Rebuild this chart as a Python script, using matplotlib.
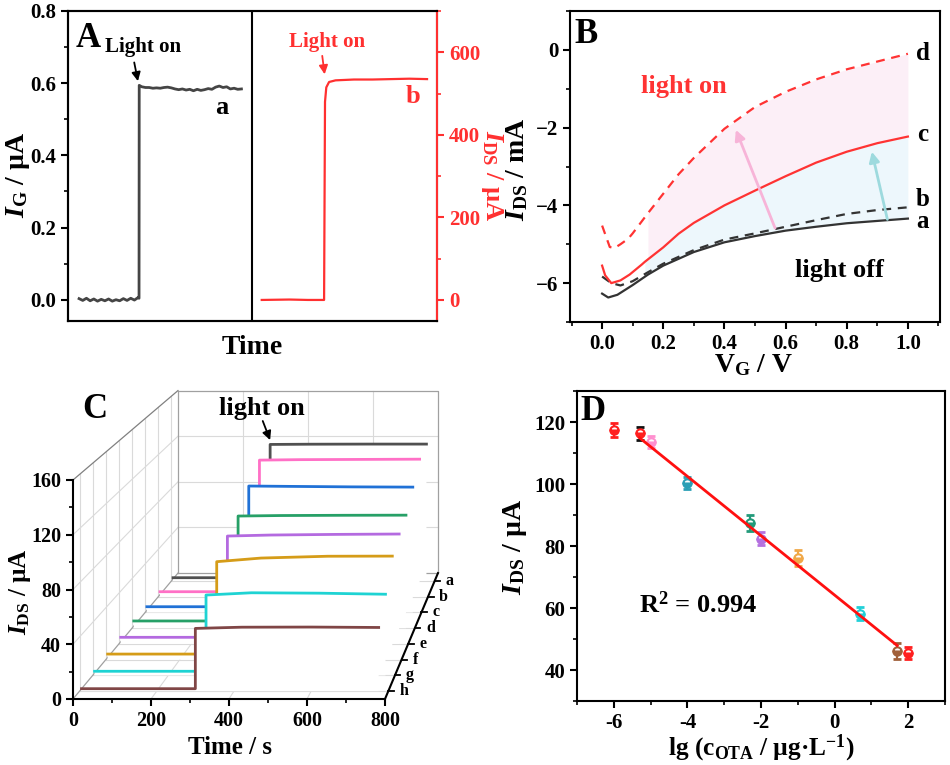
import matplotlib
matplotlib.use("Agg")
from matplotlib import pyplot as plt
from matplotlib.ticker import MultipleLocator, FuncFormatter
import numpy as np

plt.rcParams['font.family'] = ['Liberation Serif', 'DejaVu Serif']
plt.rcParams['font.weight'] = 'bold'
plt.rcParams['axes.labelweight'] = 'bold'
plt.rcParams['mathtext.fontset'] = 'custom'
plt.rcParams['mathtext.rm'] = 'Liberation Serif:bold'
plt.rcParams['mathtext.it'] = 'Liberation Serif:italic:bold'
plt.rcParams['mathtext.bf'] = 'Liberation Serif:bold'
plt.rcParams['axes.linewidth'] = 1.5

# ---- panel A: gate current (a) and drain current (b) vs time
a_time = [6, 8, 10, 12, 14, 16, 18, 20, 22, 24, 26, 28, 30, 32, 34, 36, 38, 38.5,
          38.6, 40, 42, 44, 46, 48, 50, 52, 54, 56, 58, 60, 62, 64, 66, 68, 70,
          72, 74, 76, 78, 80, 82, 84, 86, 88, 90, 92, 94]
a_ig = [0.003, -0.002, 0.004, -0.003, 0.002, -0.004, 0.001, -0.003, 0.002, -0.004,
        0.000, -0.003, 0.003, -0.002, 0.004, -0.001, 0.006, 0.004,
        0.594, 0.590, 0.588, 0.588, 0.586, 0.587, 0.586, 0.588, 0.589, 0.587,
        0.584, 0.582, 0.584, 0.581, 0.583, 0.579, 0.583, 0.580, 0.582, 0.585,
        0.583, 0.589, 0.592, 0.588, 0.590, 0.584, 0.586, 0.583, 0.584]
b_time = [105, 120, 130, 138.8, 139.3, 140.0, 141.5, 145, 155, 165, 175, 185, 194.6]
b_ids = [0, 1, 0, 0, 480, 515, 528, 532, 534, 534, 535, 536, 535]

# ---- panel B: transfer curves
vg_a = [0.0, 0.02, 0.05, 0.1, 0.15, 0.2, 0.3, 0.4, 0.5, 0.6, 0.7, 0.8, 0.9, 1.0]
ids_a = [-6.27, -6.37, -6.3, -6.05, -5.78, -5.55, -5.2, -4.95, -4.79, -4.65,
         -4.55, -4.46, -4.40, -4.34]
vg_b = [0.0, 0.03, 0.06, 0.1, 0.15, 0.2, 0.3, 0.4, 0.5, 0.6, 0.7, 0.8, 0.9, 1.0]
ids_b = [-5.83, -6.0, -6.06, -5.95, -5.72, -5.5, -5.15, -4.88, -4.72, -4.55,
         -4.38, -4.22, -4.12, -4.05]
vg_c = [0.0, 0.01, 0.03, 0.06, 0.09, 0.13, 0.14, 0.2, 0.25, 0.3, 0.4, 0.5, 0.6,
        0.7, 0.8, 0.9, 1.0]
ids_c = [-5.55, -5.8, -6.0, -5.93, -5.78, -5.52, -5.45, -5.08, -4.73, -4.45,
         -4.0, -3.62, -3.25, -2.9, -2.62, -2.4, -2.23]
vg_d = [0.0, 0.025, 0.04, 0.06, 0.085, 0.1, 0.15, 0.2, 0.25, 0.3, 0.4, 0.5, 0.6,
        0.7, 0.8, 0.9, 1.0]
ids_d = [-4.52, -5.07, -5.1, -5.0, -4.86, -4.72, -4.2, -3.7, -3.2, -2.78, -2.03,
         -1.47, -1.08, -0.76, -0.5, -0.3, -0.10]

# ---- panel C: I-t curves for a-h
c_labels = ['a', 'b', 'c', 'd', 'e', 'f', 'g', 'h']
c_colors = ['#505050', '#ff70c6', '#2071d6', '#27a067', '#b46ae0', '#d59c18',
            '#1fd3d3', '#804646']
c_time = [5, 300, 300, 420, 600, 775]
c_a = [2.8, 2.8, 118.2, 118.4, 118.5, 118.5]
c_b = [4.2, 4.2, 115.4, 115.8, 116.0, 116.2]
c_c = [4.7, 4.7, 104.3, 104.0, 103.6, 103.4]
c_d = [5.8, 5.8, 90.4, 90.8, 91.0, 91.1]
c_e = [5.2, 5.2, 85.0, 85.8, 86.3, 86.6]
c_f = [4.3, 4.3, 75.5, 78.3, 79.7, 79.8]
c_g = [3.1, 3.1, 60.6, 62.3, 62.0, 61.2]
c_h = [1.8, 1.8, 46.3, 47.2, 47.3, 47.0]

# ---- panel D: calibration
lg_c = [-6, -5.301, -5, -4, -2.301, -2, -1, 0.699, 1.699, 2]
ids_mean = [117.4, 116.3, 113.6, 100.3, 87.4, 82.4, 76.2, 58.2, 46.2, 45.4]
ids_err = [2.3, 2.2, 2.0, 1.8, 2.6, 2.0, 2.6, 2.0, 2.5, 2.0]
d_colors = ['#ff1f1f', '#ff1f1f', '#ff8fcf', '#2a9fb5', '#239a7a', '#b470e0',
            '#f0a848', '#22d0d8', '#a0603a', '#ff1f1f']
d_errcolors = ['#ff1f1f', '#111111', '#ff8fcf', '#2a9fb5', '#239a7a', '#b470e0',
               '#f0a848', '#22d0d8', '#a0603a', '#ff1f1f']
fit_x = [-5.3, 1.7]
fit_y = [114.9, 47.9]

fig = plt.figure(figsize=(9.5, 7.65), dpi=100)
W, H = 950.0, 765.0


def box(x0, y0, x1, y1):
    return [x0 / W, 1 - y1 / H, (x1 - x0) / W, (y1 - y0) / H]


def style(ax, fs=15):
    ax.tick_params(which='major', direction='out', length=5, width=1.5, labelsize=fs)
    ax.tick_params(which='minor', direction='out', length=3, width=1.2)


def labels(ax, xl, xpos, yl, ypos, color='k', rot=90, fs=20, xfs=None):
    if xl:
        ax.set_xlabel(xl, fontsize=xfs or fs)
        ax.xaxis.set_label_coords(*xpos)
        ax.xaxis.label.set_va('center')
    if yl:
        ax.set_ylabel(yl, fontsize=fs, color=color, rotation=rot)
        ax.yaxis.set_label_coords(*ypos)
        ax.yaxis.label.set_va('center')
        ax.yaxis.label.set_ha('center')


# ================= A
axa = fig.add_axes(box(68, 11, 437, 321))
axa.plot(a_time, a_ig, color='#454545', lw=2)
axa.axvline(100, color='k', lw=1.5)
axa.set_xlim(0, 200)
axa.set_ylim(-0.059, 0.8)
axa.set_xticks([])
axa.yaxis.set_major_locator(MultipleLocator(0.2))
axa.yaxis.set_minor_locator(MultipleLocator(0.1))
axa.yaxis.set_major_formatter(FuncFormatter(lambda v, p: f'{v:.1f}'))
style(axa)
labels(axa, 'Time', (0.5, -0.085), r'$I_{\rm G}$ / µA', (-0.135, 0.47))

axa2 = axa.twinx()
axa2.plot(b_time, b_ids, color='#ff3030', lw=1.6)
axa2.set_ylim(-51, 700)
axa2.yaxis.set_major_locator(MultipleLocator(200))
axa2.yaxis.set_minor_locator(MultipleLocator(100))
style(axa2)
axa2.tick_params(axis='y', which='both', colors='#ff3030')
axa2.spines['right'].set_color('#ff3030')
labels(axa2, None, None, r'$I_{\rm DS}$ / µA', (1.148, 0.47), color='#ff3030', rot=270,
       fs=19)

axa.text(0.02, 0.965, 'A', transform=axa.transAxes, fontsize=25, va='top')
axa.text(40.5, 0.70, 'Light on', fontsize=15, ha='center', va='center')
axa.annotate('', xy=(38.2, 0.598), xytext=(35.6, 0.665),
             arrowprops=dict(arrowstyle='-|>', color='k', lw=1.3, mutation_scale=13))
axa.text(83.5, 0.533, 'a', fontsize=19, ha='center', va='center')
axa2.text(140.5, 625, 'Light on', fontsize=15, ha='center', va='center', color='#ff3030')
axa2.annotate('', xy=(139.3, 540), xytext=(137.6, 598),
              arrowprops=dict(arrowstyle='-|>', color='#ff3030', lw=1.3,
                              mutation_scale=13))
axa2.text(187, 492, 'b', fontsize=19, ha='center', va='center', color='#ff3030')

# ================= B
axb = fig.add_axes(box(570, 11, 940, 322))
axb.fill_between(vg_d[6:], ids_d[6:], np.interp(vg_d[6:], vg_c, ids_c),
                 color='#fce9f4', alpha=0.7, lw=0)
axb.fill_between(vg_c[6:], ids_c[6:], np.interp(vg_c[6:], vg_a, ids_a),
                 color='#e6f5fb', alpha=0.7, lw=0)
axb.plot(vg_a, ids_a, color='#333333', lw=1.6)
axb.plot(vg_b, ids_b, color='#333333', lw=1.6, ls=(0, (4, 3)))
axb.plot(vg_c, ids_c, color='#ff3333', lw=1.6)
axb.plot(vg_d, ids_d, color='#ff3333', lw=1.6, ls=(0, (4, 3)))
axb.annotate('', xy=(0.434, -1.99), xytext=(0.569, -4.65),
             arrowprops=dict(arrowstyle='-|>', color='#f7b4d8', lw=2, mutation_scale=15))
axb.annotate('', xy=(0.880, -2.55), xytext=(0.935, -4.43),
             arrowprops=dict(arrowstyle='-|>', color='#9ddade', lw=2, mutation_scale=15))
axb.set_xlim(-0.105, 1.105)
axb.set_ylim(-7, 1)
axb.xaxis.set_major_locator(MultipleLocator(0.2))
axb.xaxis.set_minor_locator(MultipleLocator(0.1))
axb.xaxis.set_major_formatter(FuncFormatter(lambda v, p: f'{v:.1f}'))
axb.yaxis.set_major_locator(MultipleLocator(2))
axb.yaxis.set_minor_locator(MultipleLocator(1))
style(axb)
labels(axb, r'V$_{\rm G}$ / V', (0.497, -0.14), r'$I_{\rm DS}$ / mA', (-0.143, 0.49))
axb.text(0.013, 0.977, 'B', transform=axb.transAxes, fontsize=25, va='top')
axb.text(0.267, -0.94, 'light on', color='#ff3333', fontsize=19, ha='center', va='center')
axb.text(0.776, -5.67, 'light off', fontsize=19, ha='center', va='center')
for lab, yy in zip(['d', 'c', 'b', 'a'], [-0.10, -2.17, -3.85, -4.42]):
    axb.text(1.048, yy, lab, fontsize=18, ha='center', va='center')

# ================= C (oblique perspective drawn on the front plane axes)
axc = fig.add_axes(box(73, 480, 385, 699))
axc.set_facecolor('none')
axc.set_xlim(0, 800)
axc.set_ylim(0, 160)
V_T, V_I = 1615.0, 552.0
depth = [(k + 0.5) / 8 for k in range(8)][::-1]   # a at back, h at front


def proj(t, i, d):
    s = 1 - np.asarray(d, float) / 6.0
    return V_T + (np.asarray(t, float) - V_T) * s, V_I + (np.asarray(i, float) - V_I) * s


def pline(ts, iis, ds, **kw):
    x, y = proj(ts, iis, ds)
    axc.plot(x, y, clip_on=False, **kw)


gc, ec = '#dadada', '#a0a0a0'
for t in [200, 400, 600]:
    pline([t, t], [0, 160], [1, 1], color=gc, lw=0.8, zorder=1)
    pline([t, t], [0, 0], [0, 1], color=gc, lw=0.8, zorder=1)
for i in [40, 80, 120]:
    pline([0, 800], [i, i], [1, 1], color=gc, lw=0.8, zorder=1)
    pline([0, 0], [i, i], [0, 1], color=gc, lw=0.8, zorder=1)
for d in depth:
    pline([0, 0], [0, 160], [d, d], color=gc, lw=0.8, zorder=1)
    pline([0, 800], [0, 0], [d, d], color=gc, lw=0.8, zorder=1)
pline([0, 800, 800, 0, 0], [0, 0, 160, 160, 0], [1, 1, 1, 1, 1], color=ec, lw=0.9, zorder=1)
pline([0, 0], [160, 160], [0, 1], color='#808080', lw=0.9, zorder=1)
pline([0, 0], [0, 0], [0, 1], color=ec, lw=0.9, zorder=1)

c_series = [c_a, c_b, c_c, c_d, c_e, c_f, c_g, c_h]
for k, vals in enumerate(c_series):
    d = depth[k]
    fx, fy = proj(c_time + [c_time[-1], c_time[0]], vals + [0, 0], d)
    axc.fill(fx, fy, color='white', lw=0, zorder=2 + 2 * k, clip_on=False)
    pline(c_time, vals, d, color=c_colors[k], lw=2, zorder=3 + 2 * k)

pline([800, 800], [0, 0], [0, 1], color='k', lw=1.5, zorder=30)
for k, lab in enumerate(c_labels):
    px, py = proj(800, 0, depth[k])
    axc.plot([px, px + 14], [py, py], color='k', lw=1.3, clip_on=False, zorder=30)
    axc.annotate(lab, xy=(px, py), xytext=(8, 0), textcoords='offset points',
                 fontsize=11.5, ha='left', va='center', annotation_clip=False)

for sp in ['top', 'right']:
    axc.spines[sp].set_visible(False)
for sp in ['left', 'bottom']:
    axc.spines[sp].set_zorder(40)
axc.xaxis.set_major_locator(MultipleLocator(200))
axc.xaxis.set_minor_locator(MultipleLocator(100))
axc.yaxis.set_major_locator(MultipleLocator(40))
axc.yaxis.set_minor_locator(MultipleLocator(20))
style(axc, 14.5)
labels(axc, 'Time / s', (0.503, -0.22), r'$I_{\rm DS}$ / µA', (-0.17, 0.49), fs=18)
fig.text(82 / W, 1 - 393 / H, 'C', fontsize=25, va='top')
tip = proj(c_time[1] + 3, c_a[2] + 1.5, depth[0])
axc.annotate('', xy=tip, xytext=(484, 205), annotation_clip=False,
             arrowprops=dict(arrowstyle='-|>', color='k', lw=1.3, mutation_scale=13))
axc.text(484, 212.6, 'light on', fontsize=19, ha='center', va='center', clip_on=False)

# ================= D
axd = fig.add_axes(box(577, 391, 945, 701))
for k in range(len(lg_c)):
    axd.errorbar(lg_c[k], ids_mean[k], yerr=ids_err[k], fmt='none',
                 ecolor=d_errcolors[k], elinewidth=1.6, capsize=3, capthick=2, zorder=3)
    axd.plot(lg_c[k], ids_mean[k], marker='o', ms=6, mec=d_colors[k], mew=1.5,
             mfc=d_colors[k], fillstyle='bottom', markerfacecoloralt='white', zorder=4)
axd.plot(fit_x, fit_y, color='#ff1010', lw=2, zorder=5)
axd.set_xlim(-7, 3)
axd.set_ylim(30, 130)
axd.xaxis.set_major_locator(MultipleLocator(2))
axd.xaxis.set_minor_locator(MultipleLocator(1))
axd.xaxis.set_major_formatter(FuncFormatter(lambda v, p: f'{v:g}'))
axd.yaxis.set_major_locator(MultipleLocator(20))
axd.yaxis.set_minor_locator(MultipleLocator(10))
style(axd)
labels(axd, r'lg (c$_{\rm OTA}$ / µg·L$^{-1}$)', (0.5, -0.152), r'$I_{\rm DS}$ / µA',
       (-0.168, 0.497), xfs=18.3)
axd.text(0.008, 0.987, 'D', transform=axd.transAxes, fontsize=25, va='top')
axd.text(-3.72, 61.1, r'R$^{2}$ = 0.994', fontsize=19, ha='center', va='center')

fig.savefig('out.png', dpi=100)
